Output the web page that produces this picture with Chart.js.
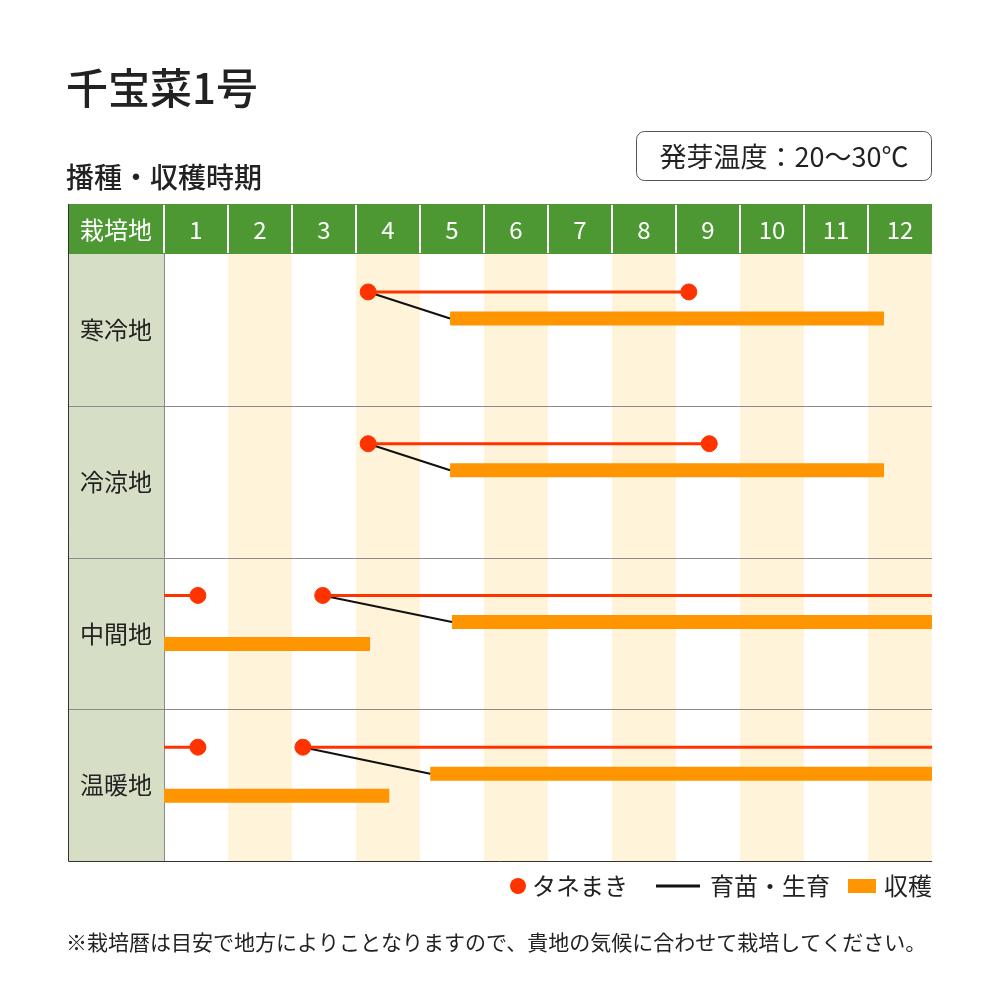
<!DOCTYPE html>
<html>
<head>
<meta charset="utf-8">
<title>千宝菜1号</title>
<script src="https://cdn.jsdelivr.net/npm/chart.js"></script>
<style>
  html, body { margin: 0; padding: 0; background: #fff; }
  canvas { display: block; }
</style>
</head>
<body>
<canvas id="calendar" width="1000" height="1000"></canvas>
<script>
// months shown in the header, regions down the left side
const months = ['1', '2', '3', '4', '5', '6', '7', '8', '9', '10', '11', '12'];
const regions = ['寒冷地', '冷涼地', '中間地', '温暖地'];

// values in months from 1 Jan (0) to 31 Dec (12)
const sowing = [
  [[3.19, 8.2]],
  [[3.19, 8.52]],
  [[0, 0.53], [2.48, 12]],
  [[0, 0.53], [2.17, 12]]
];
const sowPoints = [
  [3.19, 8.2],
  [3.19, 8.52],
  [0.53, 2.48],
  [0.53, 2.17]
];
const growing = [
  [3.19, 4.47],
  [3.19, 4.47],
  [2.48, 4.5],
  [2.17, 4.16]
];
const harvest = [
  [[4.47, 11.25]],
  [[4.47, 11.25]],
  [[4.5, 12], [0, 3.22]],
  [[4.16, 12], [0, 3.52]]
];

const RED = '#ff3300';
const ORANGE = '#ff9500';
const GREEN = '#4d9833';
const SIDE = '#d6dfc5';
const STRIPE = '#fff4d9';
const FONT = '"Noto Sans CJK JP", "Noto Sans", sans-serif';

// vertical place of each kind of mark inside a row (fraction of row)
const SOW_Y = 0.25;
const HARVEST_Y = [0.425, 0.57];

const datasets = [];
harvest.forEach((segs, r) => {
  segs.forEach((s, i) => {
    datasets.push({
      label: '収穫',
      data: [{ x: s[0], y: r + HARVEST_Y[i] }, { x: s[1], y: r + HARVEST_Y[i] }],
      borderColor: ORANGE, borderWidth: 14, borderCapStyle: 'butt',
      pointRadius: 0, showLine: true, order: 3
    });
  });
});
growing.forEach((g, r) => {
  datasets.push({
    label: '育苗・生育',
    data: [{ x: g[0], y: r + SOW_Y }, { x: g[1], y: r + HARVEST_Y[0] }],
    borderColor: '#111', borderWidth: 2, pointRadius: 0, showLine: true, order: 2
  });
});
sowing.forEach((segs, r) => {
  segs.forEach(s => {
    datasets.push({
      label: 'sowline',
      data: [{ x: s[0], y: r + SOW_Y }, { x: s[1], y: r + SOW_Y }],
      borderColor: RED, borderWidth: 3, pointRadius: 0, showLine: true, order: 1
    });
  });
});
datasets.push({
  label: 'タネまき',
  data: sowPoints.flatMap((p, r) => p.map(x => ({ x: x, y: r + SOW_Y }))),
  backgroundColor: RED, borderColor: RED, pointRadius: 8, showLine: false, order: 0
});

const frame = {
  id: 'frame',
  beforeDatasetsDraw(chart) {
    const { ctx, chartArea: a, scales: { x, y } } = chart;
    const left = 68, headTop = 204;
    ctx.save();
    // month stripes
    ctx.fillStyle = STRIPE;
    months.forEach((m, i) => {
      if (i % 2 === 1) {
        const x0 = x.getPixelForValue(i), x1 = x.getPixelForValue(i + 1);
        ctx.fillRect(x0, a.top, x1 - x0, a.bottom - a.top);
      }
    });
    // side column
    ctx.fillStyle = SIDE;
    ctx.fillRect(left, a.top, a.left - left, a.bottom - a.top);
    // header band
    ctx.fillStyle = GREEN;
    ctx.fillRect(left, headTop, a.right - left, a.top - headTop);
    ctx.strokeStyle = '#fff';
    ctx.lineWidth = 2;
    for (let i = 0; i < months.length; i++) {
      const px = Math.round(x.getPixelForValue(i));
      ctx.beginPath();
      ctx.moveTo(px, headTop + 1);
      ctx.lineTo(px, a.top - 1);
      ctx.stroke();
    }
    ctx.fillStyle = '#fff';
    ctx.textAlign = 'center';
    ctx.textBaseline = 'middle';
    ctx.font = '24px ' + FONT;
    const hy = (headTop + a.top) / 2 + 1;
    months.forEach((m, i) => ctx.fillText(m, x.getPixelForValue(i + 0.5), hy));
    ctx.fillText('栽培地', (left + a.left) / 2, hy);
    // row lines
    ctx.strokeStyle = '#8a8a8a';
    ctx.lineWidth = 1;
    regions.forEach((r, i) => {
      if (i > 0) {
        const py = Math.round(y.getPixelForValue(i)) + 0.5;
        ctx.beginPath();
        ctx.moveTo(left, py);
        ctx.lineTo(a.right, py);
        ctx.stroke();
      }
    });
    ctx.beginPath();
    ctx.moveTo(a.left + 0.5, a.top);
    ctx.lineTo(a.left + 0.5, a.bottom);
    ctx.stroke();
    // outer border
    ctx.strokeStyle = '#333';
    ctx.beginPath();
    ctx.moveTo(left + 0.5, headTop);
    ctx.lineTo(left + 0.5, a.bottom + 0.5);
    ctx.lineTo(a.right, a.bottom + 0.5);
    ctx.stroke();
    // region labels
    ctx.fillStyle = '#222';
    ctx.font = '24px ' + FONT;
    regions.forEach((r, i) => ctx.fillText(r, (left + a.left) / 2, y.getPixelForValue(i + 0.5)));
    ctx.restore();
  },
  afterDraw(chart) {
    const { ctx } = chart;
    ctx.save();
    ctx.fillStyle = '#222';
    ctx.textBaseline = 'middle';
    ctx.textAlign = 'left';
    ctx.font = '500 42px ' + FONT;
    ctx.fillText('千宝菜1号', 66, 88);
    ctx.font = '500 28px ' + FONT;
    ctx.fillText('播種・収穫時期', 66, 177);
    // germination box
    ctx.strokeStyle = '#555';
    ctx.lineWidth = 1;
    ctx.beginPath();
    ctx.roundRect(636.5, 131.5, 295, 49, 8);
    ctx.stroke();
    ctx.font = '27px ' + FONT;
    ctx.textAlign = 'center';
    ctx.fillText('発芽温度：20～30℃', 784, 157);
    // legend
    ctx.textAlign = 'left';
    ctx.font = '24px ' + FONT;
    ctx.fillStyle = RED;
    ctx.beginPath();
    ctx.arc(518, 886, 8, 0, Math.PI * 2);
    ctx.fill();
    ctx.fillStyle = '#222';
    ctx.fillText('タネまき', 532, 886);
    ctx.strokeStyle = '#111';
    ctx.lineWidth = 3;
    ctx.beginPath();
    ctx.moveTo(656, 886);
    ctx.lineTo(700, 886);
    ctx.stroke();
    ctx.fillText('育苗・生育', 710, 886);
    ctx.fillStyle = ORANGE;
    ctx.fillRect(848, 879, 28, 14);
    ctx.fillStyle = '#222';
    ctx.fillText('収穫', 884, 886);
    // note
    ctx.font = '21px ' + FONT;
    ctx.fillText('※栽培暦は目安で地方によりことなりますので、貴地の気候に合わせて栽培してください。', 66, 942);
    ctx.restore();
  }
};

new Chart(document.getElementById('calendar'), {
  type: 'scatter',
  data: { datasets: datasets },
  options: {
    responsive: false,
    animation: false,
    devicePixelRatio: 1,
    layout: { padding: { left: 164, right: 68, top: 254, bottom: 139 } },
    plugins: { legend: { display: false }, tooltip: { enabled: false } },
    scales: {
      x: { type: 'linear', min: 0, max: 12, display: false },
      y: { type: 'linear', min: 0, max: 4, reverse: true, display: false }
    }
  },
  plugins: [frame]
});
</script>
</body>
</html>
